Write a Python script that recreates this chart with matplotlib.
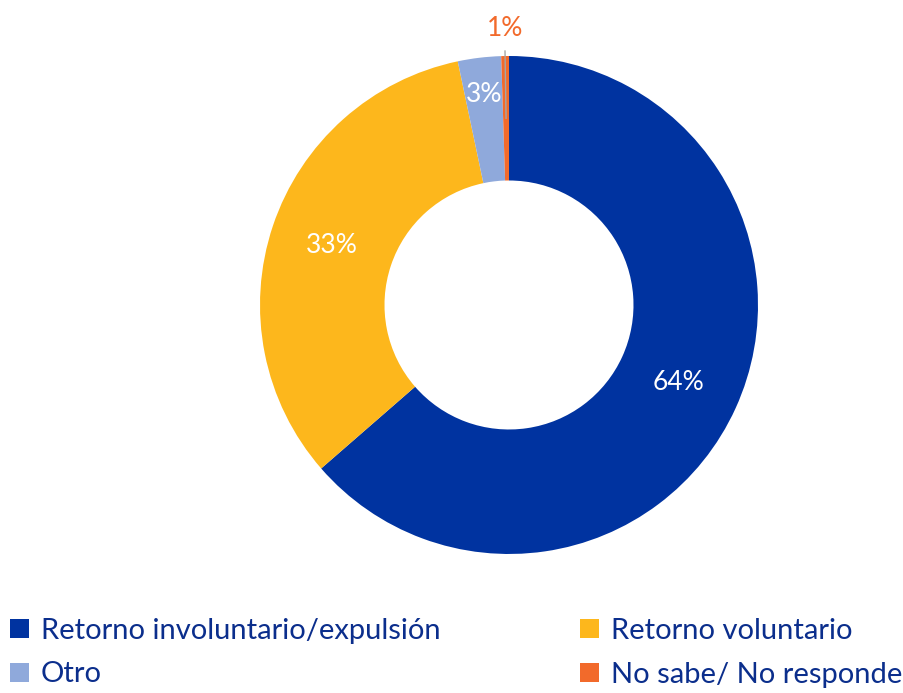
import numpy as np
import matplotlib
matplotlib.use("Agg")
import matplotlib.pyplot as plt
from matplotlib.patches import Patch

plt.rcParams['font.family'] = ['Lato', 'DejaVu Sans']

# datos
categorias = ["Retorno involuntario/expulsión", "Retorno voluntario", "Otro", "No sabe/ No responde"]
valores = [63.6, 33.1, 2.8, 0.5]
etiquetas = ["64%", "33%", "3%", "1%"]
colores = ["#0033A0", "#FDB71C", "#8FA9DB", "#F26A2B"]

fig = plt.figure(figsize=(9.04, 6.93), dpi=100)
ax = fig.add_axes([0.2876, 0.2006, 0.5509, 0.7186])

wedges, _ = ax.pie(valores, colors=colores, startangle=90, counterclock=False,
                   radius=1, wedgeprops=dict(width=0.5, linewidth=0))
ax.set_xlim(-1, 1)
ax.set_ylim(-1, 1)
ax.set_aspect('equal')
ax.axis('off')

# posicion de cada etiqueta (radio relativo)
radios = [0.75, 0.75, 0.85, 1.11]
col_txt = ["white", "white", "white", "#F26A2B"]
for w, lab, r, c in zip(wedges, etiquetas, radios, col_txt):
    ang = np.deg2rad((w.theta1 + w.theta2) / 2)
    ax.text(r * np.cos(ang), r * np.sin(ang), lab, color=c, fontsize=19,
            ha='center', va='center', clip_on=False)

# linea guia del 1%
w = wedges[3]
ang = np.deg2rad((w.theta1 + w.theta2) / 2)
ax.plot([1.02 * np.cos(ang), 0.75 * np.cos(ang)], [1.02 * np.sin(ang), 0.75 * np.sin(ang)],
        color="#A6A6A6", lw=1, clip_on=False)

orden = [0, 2, 1, 3]
handles = [Patch(facecolor=colores[i], edgecolor='none') for i in orden]
fig.legend(handles, [categorias[i] for i in orden], ncol=2, loc='upper left',
           bbox_to_anchor=(10 / 904, 1 - 618 / 693), frameon=False, fontsize=21,
           borderpad=0, borderaxespad=0,
           handlelength=0.65, handleheight=0.65, handletextpad=0.4,
           columnspacing=4.8, labelspacing=0.6, labelcolor="#0B2E8C")

fig.savefig("out.png", dpi=100)
